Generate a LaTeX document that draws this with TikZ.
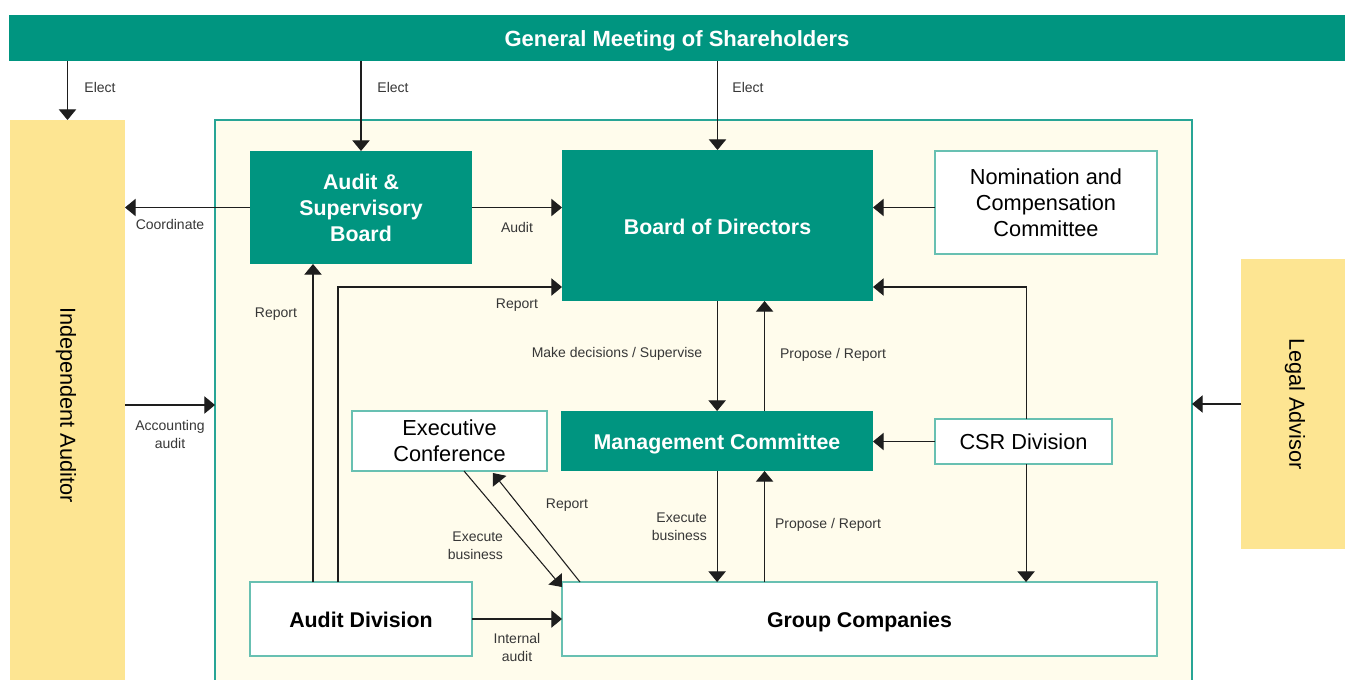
\documentclass[tikz,border=0pt]{standalone}
\usepackage{fontspec}
\setmainfont{Liberation Sans}
\usetikzlibrary{arrows.meta}
\definecolor{tealA}{RGB}{0,149,128}
\definecolor{yellowA}{RGB}{253,229,146}
\definecolor{creamA}{RGB}{255,252,236}
\definecolor{borderA}{RGB}{104,192,178}
\definecolor{frameA}{RGB}{40,165,150}
\definecolor{lineA}{RGB}{30,30,30}
\definecolor{labelA}{RGB}{55,55,55}
\begin{document}
\begin{tikzpicture}[x=0.75pt,y=-0.75pt,
  every node/.style={inner sep=0pt,outer sep=0pt},
  tealbox/.style={fill=tealA,text=white,font=\fontsize{16}{19.5}\selectfont\bfseries,align=center},
  oneline/.style={text height=13pt,text depth=0pt},
  whitebox/.style={fill=white,draw=borderA,line width=0.9pt,text=black,font=\fontsize{16.3}{19.5}\selectfont,align=center},
  whitebold/.style={whitebox,font=\fontsize{16}{19.5}\selectfont\bfseries},
  yellowbox/.style={fill=yellowA,text=black,font=\fontsize{16.3}{19.5}\selectfont},
  lbl/.style={text=labelA,font=\fontsize{10.5}{13.5}\selectfont,align=center},
  arr/.style={draw=lineA,line width=0.8pt,-{Triangle[length=8pt,width=13pt]}}]
\useasboundingbox (0,0) rectangle (1345,679);
\fill[white] (0,0) rectangle (1345,679);
% big frame
\node[fill=creamA,draw=frameA,line width=0.8pt,minimum width=732.75pt,minimum height=427.5pt] (big) at (703.5,405) {};
% outer boxes
\node[fill=tealA,text=white,font=\fontsize{16.5}{19.5}\selectfont\bfseries,oneline,minimum width=1002pt,minimum height=34.5pt] (gms) at (677,38) {General Meeting of Shareholders};
\node[yellowbox,minimum width=86.25pt,minimum height=427.5pt] (ia) at (67.5,405) {};
\node[yellowbox,rotate=-90] (iat) at (66,405) {Independent Auditor};
\node[yellowbox,minimum width=81pt,minimum height=217.5pt] (la) at (1295,404) {};
\node[yellowbox,rotate=-90] (lat) at (1295,404) {Legal Advisor};
% inner boxes
\node[tealbox,minimum width=166.5pt,minimum height=84.75pt] (asb) at (361,207.5) {Audit \&\\Supervisory\\Board};
\node[tealbox,oneline,minimum width=233.25pt,minimum height=113.25pt] (bod) at (717.5,225.5) {Board of Directors};
\node[whitebox,minimum width=166.5pt,minimum height=77.25pt] (ncc) at (1046,202.5) {Nomination and\\Compensation\\Committee};
\node[tealbox,oneline,minimum width=234pt,minimum height=45pt] (mc) at (717,441) {Management Committee};
\node[whitebox,minimum width=146.25pt,minimum height=45pt] (ec) at (449.5,441) {Executive\\Conference};
\node[whitebox,minimum width=132.75pt,minimum height=33.75pt] (csr) at (1023.5,441.5) {CSR Division};
\node[whitebold,oneline,minimum width=166.5pt,minimum height=55.5pt] (ad) at (361,619) {Audit Division};
\node[whitebold,oneline,minimum width=446.25pt,minimum height=55.5pt] (gc) at (859.5,619) {Group Companies};
% connectors
\draw[arr] (ia.north |- gms.south) -- (ia.north);
\draw[arr] (asb.north |- gms.south) -- (asb.north);
\draw[arr] (bod.north |- gms.south) -- (bod.north);
\draw[arr] (asb.west) -- (asb.west -| ia.east);
\draw[arr] (asb.east) -- (asb.east -| bod.west);
\draw[arr] (ncc.west |- asb.east) -- (bod.east |- asb.east);
\coordinate (r1) at ([xshift=-36pt]ad.north);
\draw[arr] (r1) -- (r1 |- asb.south);
\coordinate (r2) at ([xshift=-17.25pt]ad.north);
\coordinate (r2y) at ([yshift=10.5pt]bod.south west);
\draw[arr] (r2) |- (r2y);
\coordinate (d1) at ([xshift=-0.3pt]bod.south);
\coordinate (d2) at ([xshift=35.3pt]bod.south);
\draw[arr] (d1) -- (d1 |- mc.north);
\draw[arr] (d2 |- mc.north) -- (d2);
\draw[arr] (d1 |- mc.south) -- (d1 |- gc.north);
\draw[arr] (d2 |- gc.north) -- (d2 |- mc.south);
\coordinate (r3) at ([yshift=10.5pt]bod.south east);
\draw[arr] ([xshift=1.9pt]csr.north) |- (r3);
\draw[arr] (csr.west) -- (csr.west -| mc.east);
\draw[arr] ([xshift=1.9pt]csr.south) -- ([xshift=1.9pt]csr.south |- gc.north);
\draw[arr] (la.west) -- (la.west -| big.east);
\draw[arr] (ia.east) -- (ia.east -| big.west);
\coordinate (e1) at ([xshift=10.9pt]ec.south);
\coordinate (e2) at ([yshift=-3.75pt]gc.north west);
\draw[arr] (e1) -- (e2);
\coordinate (g1) at ([xshift=13.5pt]gc.north west);
\coordinate (g2) at ([xshift=32.6pt,yshift=-1.5pt]ec.south);
\draw[arr] (g1) -- (g2);
\draw[arr] (ad.east) -- (ad.east -| gc.west);
% labels
\node[lbl] (l1) at (100,87) {Elect};
\node[lbl] (l2) at (393,87) {Elect};
\node[lbl] (l3) at (748,87) {Elect};
\node[lbl] (l4) at (170,224) {Coordinate};
\node[lbl] (l5) at (517,227) {Audit};
\node[lbl] (l6) at (276,314) {Report};
\node[lbl] (l7) at (517,305) {Report};
\node[lbl] (l8) at (617,354) {Make decisions / Supervise};
\node[lbl] (l9) at (833,355) {Propose / Report};
\node[lbl] (l10) at (170,434) {Accounting\\audit};
\node[lbl,align=right,anchor=east] (l11) at (707,527) {Execute\\business};
\node[lbl] (l12) at (828,525) {Propose / Report};
\node[lbl,align=right,anchor=east] (l13) at (503,546) {Execute\\business};
\node[lbl] (l14) at (567,505) {Report};
\node[lbl] (l15) at (517,647) {Internal\\audit};
\end{tikzpicture}
\end{document}
